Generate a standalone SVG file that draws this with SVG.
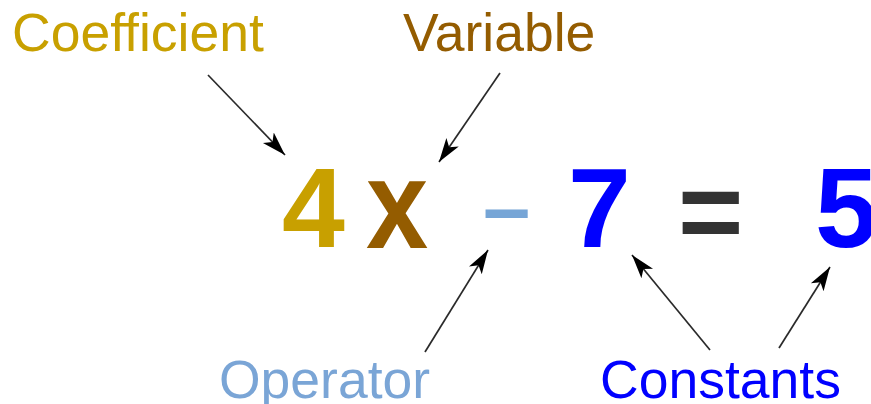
<svg xmlns="http://www.w3.org/2000/svg" width="871" height="404" viewBox="0 0 871 404">
<style>
.lbl{font-family:"Liberation Sans",Arial,sans-serif;font-size:53.5px}
.eq{font-family:"Liberation Sans",Arial,sans-serif;font-weight:bold}
.arr{stroke:#2a2a2a;stroke-width:1.7;fill:none;marker-end:url(#ah)}
</style>
<defs>
<marker id="ah" markerUnits="userSpaceOnUse" markerWidth="26" markerHeight="18" refX="24" refY="9" orient="auto" viewBox="0 0 26 18">
<path d="M0,1.5 L24,9 L0,16.5 L6,9 z" fill="#000"/>
</marker>
</defs>
<rect width="871" height="404" fill="#fff"/>
<g id="label-coefficient"><text class="lbl" x="12" y="51" fill="#C8A000">Coefficient</text></g>
<g id="label-variable"><text class="lbl" x="403" y="51" fill="#945C00">Variable</text></g>
<g id="label-operator"><text class="lbl" x="219" y="398" fill="#7AA5D6">Operator</text></g>
<g id="label-constants"><text class="lbl" x="600" y="398" fill="#0000FF">Constants</text></g>
<g id="term-4"><text class="eq" x="282" y="247" font-size="113" fill="#C8A000">4</text></g>
<g id="term-x"><text class="eq" transform="translate(366,248) scale(0.88,1)" x="0" y="0" font-size="127" fill="#945C00">x</text></g>
<g id="op-minus"><text class="eq" x="483" y="237" font-size="85" fill="#76A5D6">–</text></g>
<g id="const-7"><text class="eq" x="568" y="247" font-size="113" fill="#0000FF">7</text></g>
<g id="op-equals"><text class="eq" x="678" y="250" font-size="112" fill="#333333">=</text></g>
<g id="const-5"><text class="eq" x="815" y="247" font-size="113" fill="#0000FF">5</text></g>
<g id="connectors">
<line class="arr" x1="208" y1="75" x2="285" y2="155"/>
<line class="arr" x1="500" y1="73" x2="439" y2="162"/>
<line class="arr" x1="425" y1="352" x2="488" y2="250"/>
<line class="arr" x1="710" y1="350" x2="632" y2="255"/>
<line class="arr" x1="779" y1="348" x2="830" y2="267"/>
</g>
</svg>
